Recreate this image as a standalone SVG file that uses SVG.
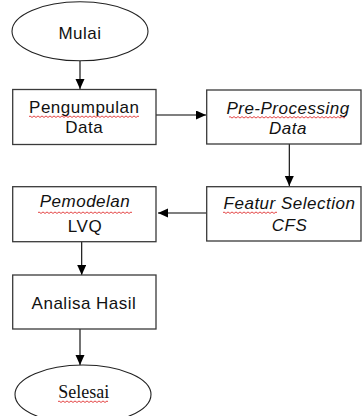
<svg xmlns="http://www.w3.org/2000/svg" width="363" height="416" viewBox="0 0 363 416">
<defs>
<marker id="ah" markerUnits="userSpaceOnUse" markerWidth="12" markerHeight="10" refX="10" refY="4.5" orient="auto">
<path d="M0,0 L10,4.5 L0,9 Z" fill="#000"/>
</marker>
<style>
.box{fill:#fff;stroke:#3a3a3a;stroke-width:1.3}
.ell{fill:#fff;stroke:#222;stroke-width:1.1}
.t{font-family:"Liberation Sans",Arial,sans-serif;font-size:17px;letter-spacing:0.5px;fill:#111;text-anchor:middle}
.i{font-style:italic}
.s{font-family:"Liberation Serif","Times New Roman",serif;font-size:18px;fill:#111;text-anchor:middle}
.c{stroke:#000;stroke-width:1.1;fill:none;marker-end:url(#ah)}
.w{stroke:#e03030;stroke-width:0.9;fill:none}
</style>
</defs>
<rect width="363" height="416" fill="#fff"/>
<g id="connectors">
<line class="c" x1="80" y1="61" x2="80" y2="89"/>
<line class="c" x1="156" y1="115" x2="206" y2="115"/>
<line class="c" x1="289.3" y1="144" x2="289.3" y2="186"/>
<line class="c" x1="206.7" y1="213" x2="158" y2="213"/>
<line class="c" x1="81.7" y1="242" x2="81.7" y2="275"/>
<line class="c" x1="80" y1="329" x2="80" y2="365"/>
</g>
<g id="mulai">
<ellipse class="ell" cx="80" cy="31.3" rx="68" ry="29.5"/>
<text class="t" x="80" y="39.3">Mulai</text>
</g>
<g id="pengumpulan">
<rect class="box" x="12.7" y="89.5" width="143.3" height="55"/>
<text class="t" x="84.3" y="113.3">Pengumpulan</text>
<text class="t" x="84.3" y="133.3">Data</text>
<path class="w" d="M29,116.7 q1,-1.5 2,0 t2,0 t2,0 t2,0 t2,0 t2,0 t2,0 t2,0 t2,0 t2,0 t2,0 t2,0 t2,0 t2,0 t2,0 t2,0 t2,0 t2,0 t2,0 t2,0 t2,0 t2,0 t2,0 t2,0 t2,0 t2,0 t2,0 t2,0 t2,0 t2,0 t2,0 t2,0 t2,0 t2,0 t2,0 t2,0 t2,0 t2,0 t2,0 t2,0 t2,0 t2,0 t2,0 t2,0 t2,0 t2,0 t2,0 t2,0 t2,0 t2,0 t2,0 t2,0 t2,0 t2,0 t2,0"/>
</g>
<g id="preprocessing">
<rect class="box" x="206.7" y="90" width="154.3" height="54"/>
<text class="t i" x="288" y="114.3">Pre-Processing</text>
<text class="t i" x="288" y="134">Data</text>
<path class="w" d="M229,117.3 q1,-1.5 2,0 t2,0 t2,0 t2,0 t2,0 t2,0 t2,0 t2,0 t2,0 t2,0 t2,0 t2,0 t2,0 t2,0 t2,0 t2,0 t2,0 t2,0 t2,0 t2,0 t2,0 t2,0 t2,0 t2,0 t2,0 t2,0 t2,0 t2,0 t2,0 t2,0 t2,0 t2,0 t2,0 t2,0 t2,0 t2,0 t2,0 t2,0 t2,0 t2,0 t2,0 t2,0 t2,0 t2,0 t2,0 t2,0 t2,0 t2,0 t2,0 t2,0 t2,0 t2,0 t2,0 t2,0 t2,0 t2,0 t2,0 t2,0"/>
</g>
<g id="featur">
<rect class="box" x="206.7" y="186.7" width="154.3" height="54.3"/>
<text class="t i" x="289.5" y="209.3">Featur Selection</text>
<text class="t i" x="289.5" y="231">CFS</text>
<path class="w" d="M223,212.7 q1,-1.5 2,0 t2,0 t2,0 t2,0 t2,0 t2,0 t2,0 t2,0 t2,0 t2,0 t2,0 t2,0 t2,0 t2,0 t2,0 t2,0 t2,0 t2,0 t2,0 t2,0 t2,0 t2,0 t2,0 t2,0 t2,0 t2,0 t2,0"/>
</g>
<g id="pemodelan">
<rect class="box" x="12.7" y="186.7" width="143.3" height="55"/>
<text class="t i" x="85" y="207.3">Pemodelan</text>
<text class="t" x="85" y="231.7">LVQ</text>
<path class="w" d="M38,212.7 q1,-1.5 2,0 t2,0 t2,0 t2,0 t2,0 t2,0 t2,0 t2,0 t2,0 t2,0 t2,0 t2,0 t2,0 t2,0 t2,0 t2,0 t2,0 t2,0 t2,0 t2,0 t2,0 t2,0 t2,0 t2,0 t2,0 t2,0 t2,0 t2,0 t2,0 t2,0 t2,0 t2,0 t2,0 t2,0 t2,0 t2,0 t2,0 t2,0 t2,0 t2,0 t2,0 t2,0 t2,0 t2,0 t2,0 t2,0 t2,0"/>
</g>
<g id="analisa">
<rect class="box" x="12.7" y="275" width="143.3" height="54"/>
<text class="t" x="84" y="309.3">Analisa Hasil</text>
</g>
<g id="selesai">
<ellipse class="ell" cx="83" cy="394.5" rx="68" ry="29.5"/>
<text class="s" x="83.7" y="397.7">Selesai</text>
<path class="w" d="M58,401.7 q1,-1.5 2,0 t2,0 t2,0 t2,0 t2,0 t2,0 t2,0 t2,0 t2,0 t2,0 t2,0 t2,0 t2,0 t2,0 t2,0 t2,0 t2,0 t2,0 t2,0 t2,0 t2,0 t2,0 t2,0 t2,0 t2,0"/>
</g>
</svg>
